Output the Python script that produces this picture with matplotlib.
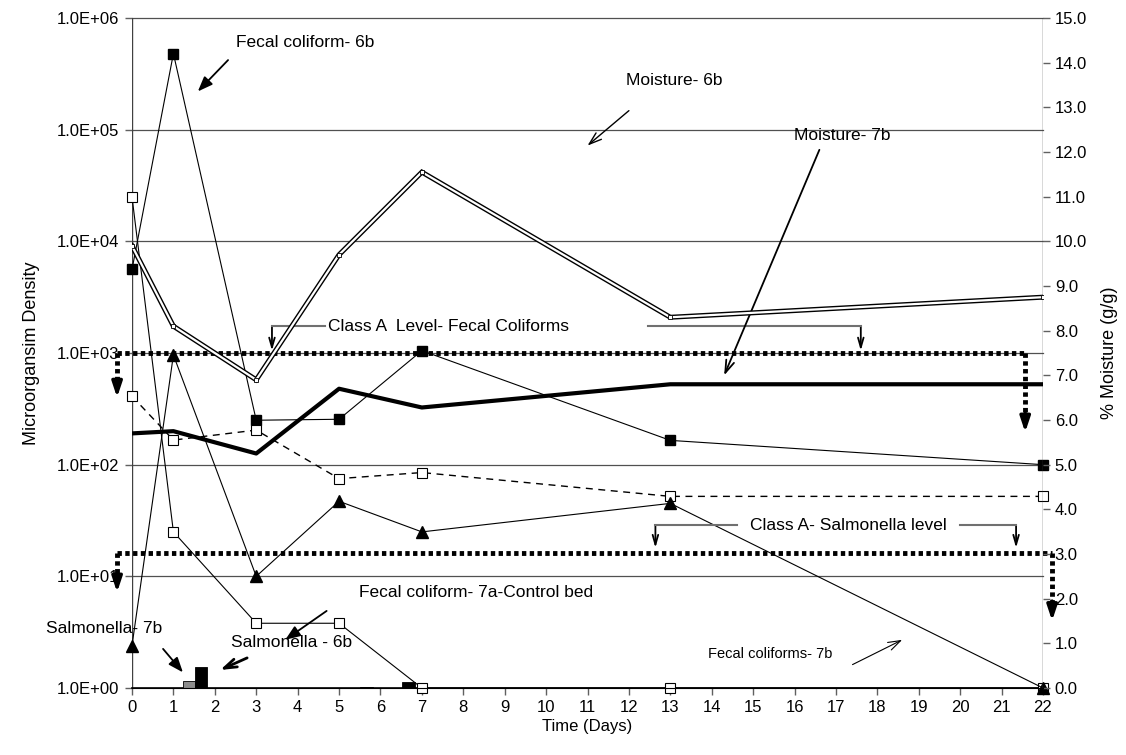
import numpy as np
import matplotlib
matplotlib.use("Agg")
import matplotlib.pyplot as plt
from matplotlib.ticker import FixedLocator, FuncFormatter, NullLocator

plt.rcParams['font.family'] = ['Liberation Sans', 'DejaVu Sans']

# data
days = [0, 1, 3, 5, 7, 13, 22]
fecal_6b = [5600, 480000, 250, 255, 1050, 165, 100]
fecal_7a_control = [25000, 25, 3.8, 3.8, 1, 1, 1]
fecal_dashed = [410, 166, 204, 75, 85, 52, 52]
fecal_7b = [2.4, 960, 10, 47, 25, 45, 1]
moisture_6b = [9.9, 8.1, 6.9, 9.7, 11.55, 8.3, 8.75]
moisture_7b = [5.7, 5.75, 5.25, 6.7, 6.28, 6.8, 6.8]

salm_7b_x = [1.38, 6.37]
salm_7b = [1.16, 1.0]
salm_6b_x = [1.67, 5.66, 6.68]
salm_6b = [1.55, 1.02, 1.13]

fecal_classA = 1000
salm_classA = 16.2

x_ticks = list(range(0, 23))
left_ticks = [1e0, 1e1, 1e2, 1e3, 1e4, 1e5, 1e6]
right_ticks = np.arange(0, 16, 1)

fig = plt.figure(figsize=(11.26, 7.55), dpi=100)
ax = fig.add_axes([132/1126, 1-688/755, 911/1126, 670/755])
ax2 = ax.twinx()

ax.set_yscale('log')
ax.set_ylim(1, 1e6)
ax.set_xlim(0, 22)
ax2.set_ylim(0, 15)

# gridlines
for v in left_ticks[1:]:
    ax.axhline(v, color='#505050', lw=0.9, zorder=1, clip_on=False)

# bars
ax.bar(salm_7b_x, np.array(salm_7b) - 1, bottom=1, width=0.3, color='#8c8c8c',
       edgecolor='black', lw=0.6, zorder=3)
ax.bar(salm_6b_x, np.array(salm_6b) - 1, bottom=1, width=0.3, color='black',
       edgecolor='black', lw=0.6, zorder=3)

# microorganism series
ax.plot(days, fecal_6b, color='black', lw=0.8, marker='s', ms=7,
        mfc='black', mec='black', zorder=5, clip_on=False)
ax.plot(days, fecal_7a_control, color='black', lw=0.8, marker='s', ms=7,
        mfc='white', mec='black', mew=0.8, zorder=5, clip_on=False)
ax.plot(days, fecal_dashed, color='black', lw=1.0, ls=(0, (5, 4)), marker='s', ms=7,
        mfc='white', mec='black', mew=0.8, zorder=5, clip_on=False)
ax.plot(days, fecal_7b, color='black', lw=0.8, marker='^', ms=8,
        mfc='black', mec='black', zorder=5, clip_on=False)

# moisture series
ax2.plot(days, moisture_6b, color='black', lw=3.6, zorder=4, solid_joinstyle='miter')
ax2.plot(days, moisture_6b, color='white', lw=1.6, zorder=4, marker='s', ms=3.5,
         mfc='white', mec='black', mew=0.6, solid_joinstyle='miter')
ax2.plot(days, moisture_7b, color='black', lw=3, zorder=4)

# class A levels (dotted, with drop arrows)
dot = dict(color='black', lw=3.5, ls=(0, (0.9, 0.7)), zorder=6, clip_on=False)
ax.plot([-0.36, 21.57], [fecal_classA, fecal_classA], **dot)
ax.plot([-0.36, -0.36], [fecal_classA, 540], **dot)
ax.plot([21.57, 21.57], [fecal_classA, 280], **dot)
ax.plot([-0.36, 22.22], [salm_classA, salm_classA], **dot)
ax.plot([-0.36, -0.36], [salm_classA, 10], **dot)
ax.plot([22.22, 22.22], [salm_classA, 5.8], **dot)

def head(x, y_from, y_to, filled=True, lw=2.5):
    style = '-|>,head_length=0.9,head_width=0.3' if filled else '->,head_length=0.9,head_width=0.25'
    ax.annotate('', xy=(x, y_to), xytext=(x, y_from), annotation_clip=False,
                arrowprops=dict(arrowstyle=style, color='black', lw=lw,
                                shrinkA=0, shrinkB=0), zorder=7)

head(-0.36, 560, 400)
head(21.57, 290, 195)
head(-0.36, 10.5, 7.2)
head(22.22, 6.0, 4.0)

# class A label lines
def v_arrow(x, y_from, y_to):
    ax.annotate('', xy=(x, y_to), xytext=(x, y_from), annotation_clip=False,
                arrowprops=dict(arrowstyle='->,head_length=0.7,head_width=0.2',
                                color='black', lw=1.3, shrinkA=0, shrinkB=0))

ya = 1740
ax.plot([3.38, 4.66], [ya, ya], color='#707070', lw=1.5, zorder=6)
ax.plot([12.45, 17.6], [ya, ya], color='#707070', lw=1.5, zorder=6)
v_arrow(3.38, ya, 1050)
v_arrow(17.6, ya, 1050)
ax.text(4.73, ya, 'Class A  Level- Fecal Coliforms', fontsize=12.5, va='center', ha='left',
        zorder=8)

ys = 28.8
ax.plot([12.64, 14.6], [ys, ys], color='#707070', lw=1.5, zorder=6)
ax.plot([20.0, 21.35], [ys, ys], color='#707070', lw=1.5, zorder=6)
v_arrow(12.64, ys, 18)
v_arrow(21.35, ys, 18)
ax.text(17.3, ys, 'Class A- Salmonella level', fontsize=12.5, va='center', ha='center',
        zorder=8)

# series labels
def label(text, xy_text, tail, tip, style='filled', fs=12.5, lw=1.3, ha='center'):
    ax.text(xy_text[0], xy_text[1], text, fontsize=fs, ha=ha, va='center', zorder=8)
    if style == 'filled':
        st = '-|>,head_length=0.9,head_width=0.35'
    else:
        st = '->,head_length=0.9,head_width=0.3'
    ax.annotate('', xy=tip, xytext=tail, annotation_clip=False,
                arrowprops=dict(arrowstyle=st, color='black', lw=lw,
                                shrinkA=0, shrinkB=0), zorder=8)

label('Fecal coliform- 6b', (2.5, 6.0e5), (2.32, 4.2e5), (1.59, 2.2e5), ha='left')
label('Moisture- 6b', (13.1, 2.75e5), (12.0, 1.48e5), (11.0, 7.2e4), style='open', lw=1.0)
label('Moisture- 7b', (17.15, 8.9e4), (16.6, 6.6e4), (14.3, 630), style='open', lw=1.3)
label('Fecal coliform- 7a-Control bed', (8.3, 7.1), (4.7, 4.9), (3.7, 2.7))
label('Salmonella- 7b', (-0.68, 3.4), (0.75, 2.24), (1.23, 1.38))
label('Salmonella - 6b', (3.86, 2.57), (2.78, 1.86), (2.13, 1.45), style='open', lw=2.0)
label('Fecal coliforms- 7b', (15.4, 2.0), (17.4, 1.62), (18.6, 2.7), style='open',
      fs=10.5, lw=0.8)

# axes cosmetics
ax.yaxis.set_major_locator(FixedLocator(left_ticks))
ax.yaxis.set_minor_locator(NullLocator())
ax.yaxis.set_major_formatter(FuncFormatter(lambda v, p: f'{v:.1E}'))
ax.set_xticks(x_ticks)
ax.set_xticklabels([str(d) for d in x_ticks])
ax2.set_yticks(right_ticks)
ax2.set_yticklabels([f'{v:.1f}' for v in right_ticks])

for a in (ax, ax2):
    a.tick_params(direction='out', length=5, width=1, color='#606060', labelsize=12)
    a.spines['top'].set_visible(False)
    a.spines['left'].set_visible(False)
    a.spines['right'].set_visible(False)
ax.spines['bottom'].set_linewidth(1.2)
ax.axvline(0, color='#404040', lw=1, zorder=2)
ax2.axvline(22, color='#404040', lw=1, zorder=2)
ax.tick_params(axis='y', pad=4)

ax.set_ylabel('Microorgansim Density', fontsize=13, labelpad=12)
ax2.set_ylabel('% Moisture (g/g)', fontsize=13, labelpad=10)
ax.set_xlabel('Time (Days)', fontsize=12, labelpad=3)

fig.savefig('out.png', dpi=100)
